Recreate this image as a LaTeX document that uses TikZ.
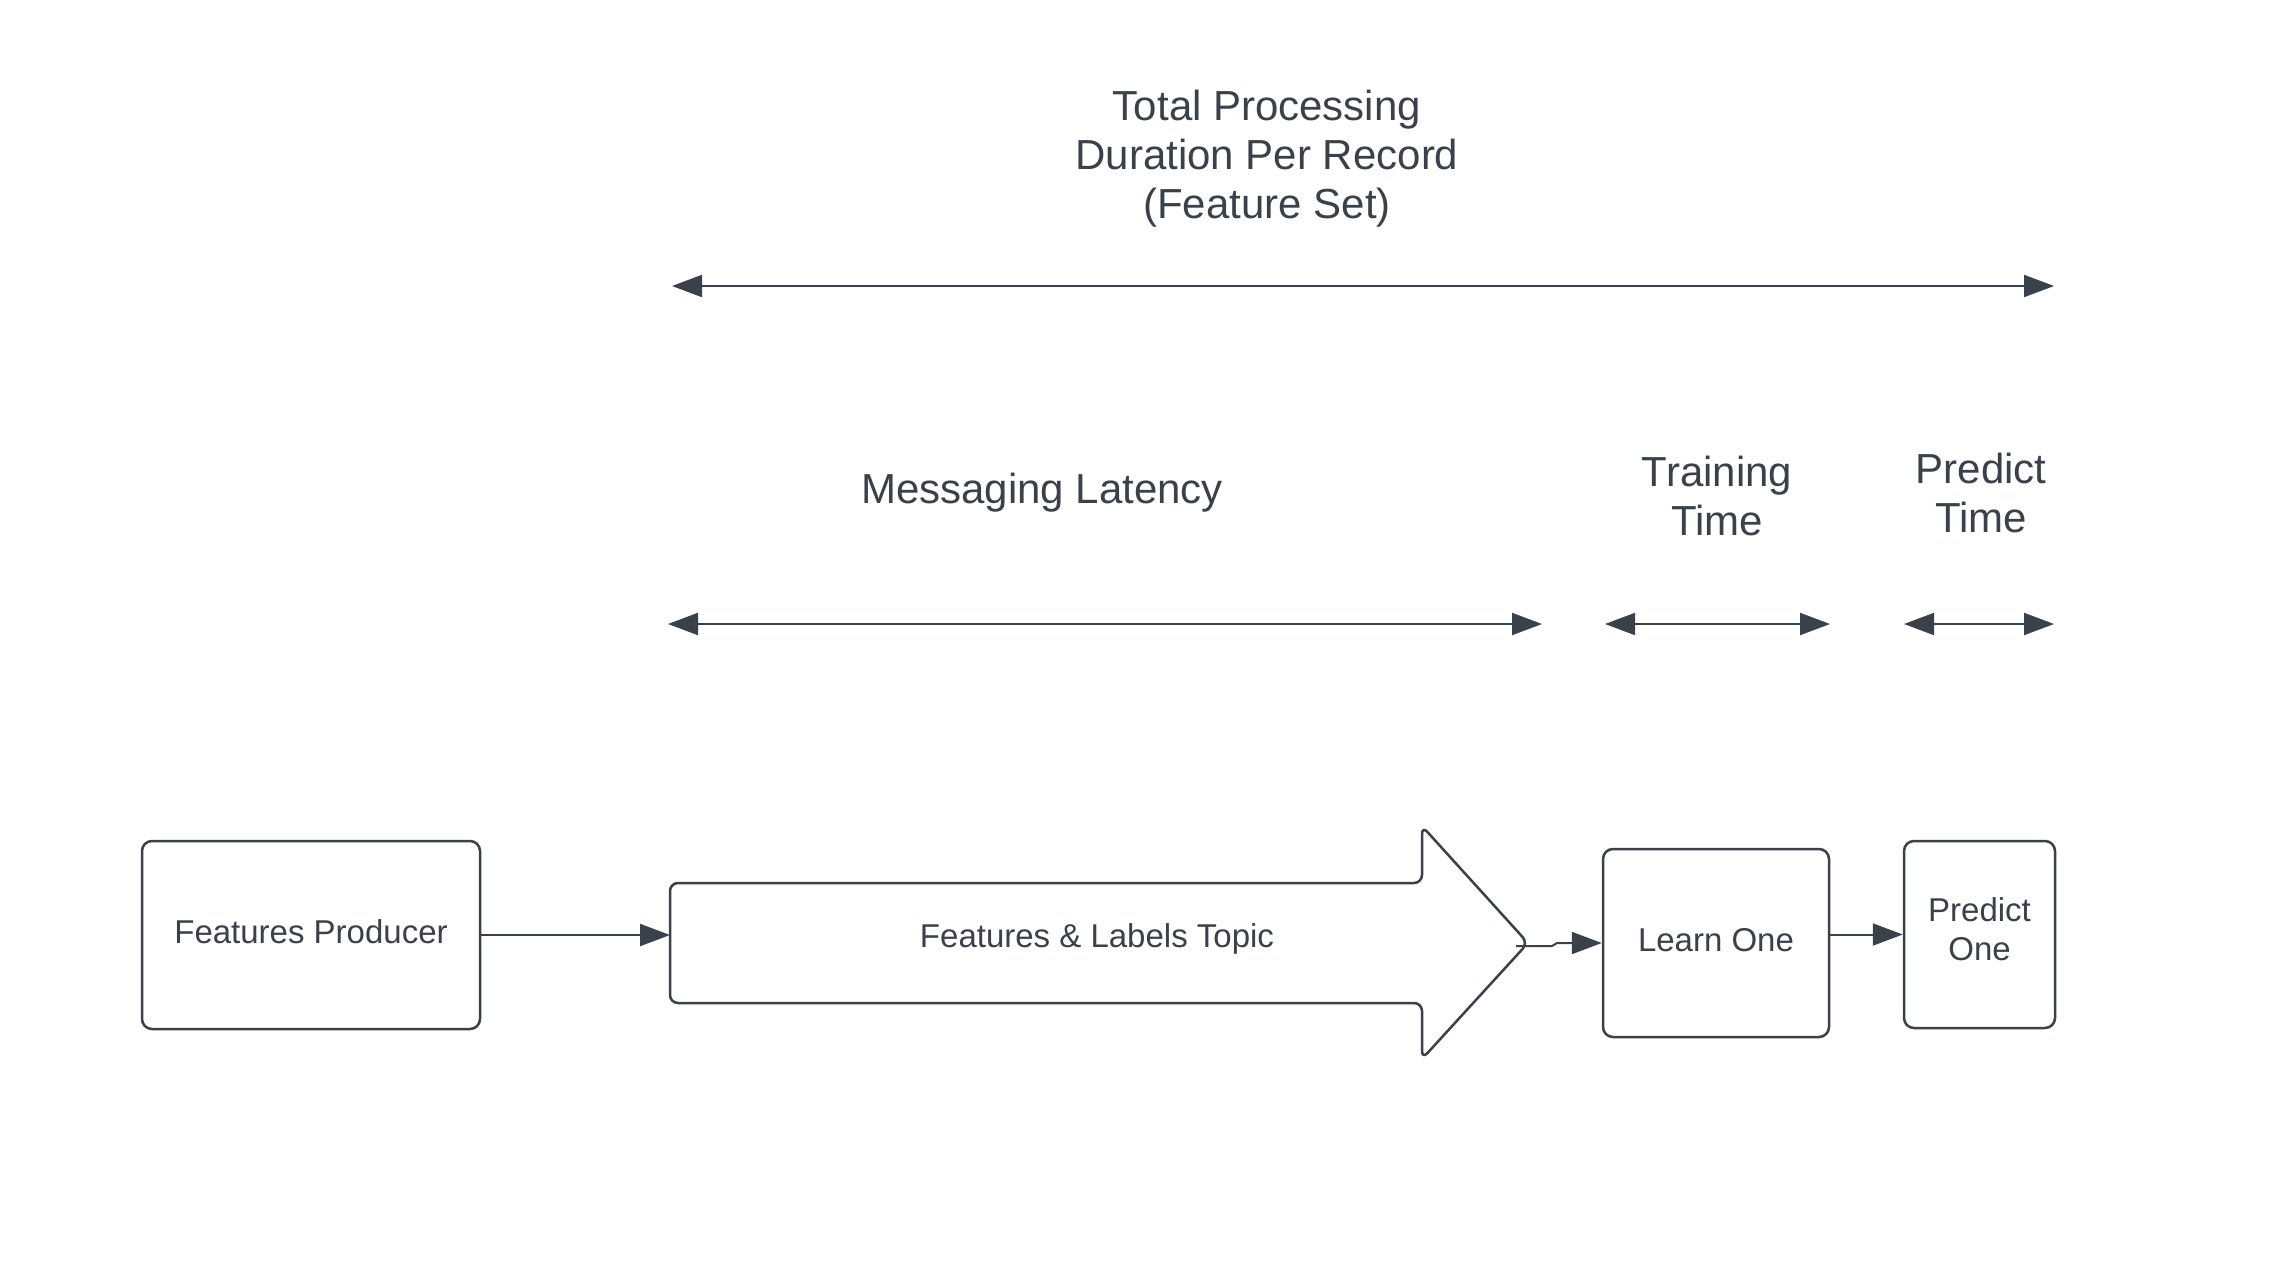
\documentclass[tikz,border=0pt]{standalone}
\usepackage{fontspec}
\setmainfont{Liberation Sans}
\usetikzlibrary{arrows.meta}
\definecolor{ink}{HTML}{3A414A}
\begin{document}
\begin{tikzpicture}[x=1pt,y=-1pt,
  box/.style={draw=ink, line width=2.5pt, rounded corners=10pt, inner sep=0pt},
  boxtxt/.style={text=ink, align=center, inner sep=0pt, font=\fontsize{33}{39}\selectfont},
  lbl/.style={text=ink, align=center, inner sep=0pt, font=\fontsize{42}{49}\selectfont},
  conn/.style={draw=ink, line width=2pt, -{Triangle[length=30pt,width=22pt]}},
  dim/.style={draw=ink, line width=2pt, {Triangle[length=30pt,width=22pt]}-{Triangle[length=30pt,width=22pt]}}]
\useasboundingbox (0,0) rectangle (2278,1269);
\fill[white] (0,0) rectangle (2278,1269);

% labels
\node[lbl] (title) at (1267,158.5) {Total Processing\\Duration Per Record\\(Feature Set)};
\node[lbl] (msg) at (1042,492.5) {Messaging Latency};
\node[lbl] (train) at (1717,496) {Training\\Time};
\node[lbl] (pred) at (1981,493) {Predict\\Time};

% dimension arrows
\coordinate (tl) at (672,286);  \coordinate (tr) at (2054,286);
\coordinate (ml) at (668,624);  \coordinate (mr) at (1542,624);
\coordinate (rl) at (1605,624); \coordinate (rr) at (1830,624);
\coordinate (pl) at (1904,624); \coordinate (pr) at (2054,624);
\draw[dim] (tl) -- (tr);
\draw[dim] (ml) -- (mr);
\draw[dim] (rl) -- (rr);
\draw[dim] (pl) -- (pr);

% boxes
\node[box, minimum width=338pt, minimum height=188pt,
  label={[boxtxt, yshift=3pt]center:Features Producer}] (fp) at (311,935) {};
\node[box, minimum width=226pt, minimum height=188pt,
  label={[boxtxt, yshift=3pt]center:Learn One}] (learn) at (1716,943) {};
\node[box, minimum width=151pt, minimum height=187pt,
  label={[boxtxt, yshift=5pt]center:Predict\\One}] (predict) at (1979.5,934.5) {};

% big topic arrow
\draw[ink, line width=2.5pt, rounded corners=8pt, fill=white]
  (670,883) -- (1422,883) -- (1422,826) -- (1528,943) -- (1422,1059) -- (1422,1003) -- (670,1003) -- cycle;
\node[boxtxt] (topic) at (1097,939) {Features \& Labels Topic};
\coordinate (topicL) at (670,943);
\coordinate (tip) at (1516,946);

% connectors
\draw[conn] (fp.east) -- (fp.east -| topicL);
\draw[conn] (tip) -- (1552,946) -- (1557,943) -- (learn.west);
\draw[conn] (learn.east |- predict.west) -- (predict.west);
\end{tikzpicture}
\end{document}
